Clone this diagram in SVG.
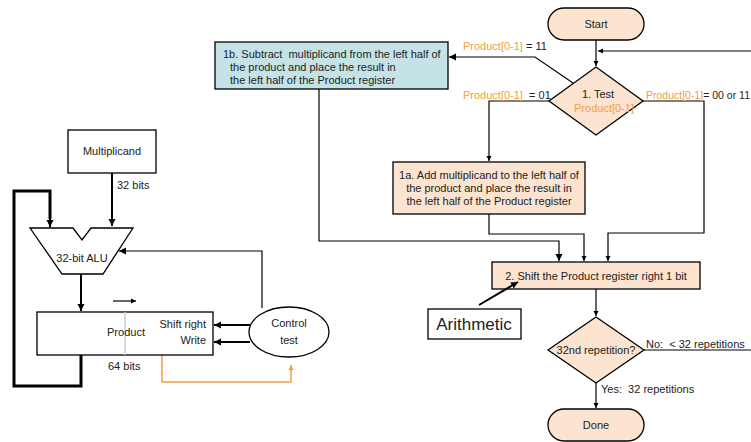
<svg xmlns="http://www.w3.org/2000/svg" width="751" height="442" viewBox="0 0 751 442">
  <defs>
    <marker id="ah" markerWidth="8" markerHeight="8" refX="7" refY="4" orient="auto" markerUnits="userSpaceOnUse">
      <path d="M0,0.5 L7,4 L0,7.5 Z" fill="#000"/>
    </marker>
    <marker id="ahs" markerWidth="6" markerHeight="6" refX="5" refY="3" orient="auto" markerUnits="userSpaceOnUse">
      <path d="M0,0.5 L5,3 L0,5.5 Z" fill="#000"/>
    </marker>
    <marker id="aho" markerWidth="6" markerHeight="6" refX="5" refY="3" orient="auto" markerUnits="userSpaceOnUse">
      <path d="M0,0.5 L5,3 L0,5.5 Z" fill="#F0A040"/>
    </marker>
  </defs>
  <style>
    text { font-family: "Liberation Sans", Arial, sans-serif; font-size: 11px; fill: #222; white-space: pre; }
    .c { text-anchor: middle; }
    .r { text-anchor: end; }
    .o { fill: #F0A040; }
    .sm { font-size: 10.5px; }
    .box { fill: #fff; stroke: #000; stroke-width: 1.3; }
    .peach { fill: #FCE4D0; stroke: #000; stroke-width: 1.3; }
    .blue { fill: #C5E3E6; stroke: #000; stroke-width: 1.3; }
    .ln { fill: none; stroke: #000; stroke-width: 1.2; }
    .thick { fill: none; stroke: #000; stroke-width: 3; }
    .mid { fill: none; stroke: #000; stroke-width: 2; }
  </style>

  <rect width="751" height="442" fill="#fff"/>

  <!-- Datapath: connectors -->
  <g id="datapath-links">
    <path class="mid" d="M112,173 V226" marker-end="url(#ah)"/>
    <path class="thick" d="M81,355 V386 H14 V191 H50 V219"/>
    <path class="mid" d="M50,218 V227" marker-end="url(#ah)"/>
    <path class="mid" d="M81,274 V311" marker-end="url(#ah)"/>
    <path class="ln" d="M113,301 H136" marker-end="url(#ahs)"/>
    <path class="ln" d="M262,308 V251 H119" marker-end="url(#ah)"/>
    <path class="mid" d="M250,325 H214" marker-end="url(#ah)"/>
    <path class="mid" d="M250,342 H214" marker-end="url(#ah)"/>
    <path fill="none" stroke="#F0A040" stroke-width="1.5" d="M162,355 V382 H291 V365" marker-end="url(#aho)"/>
    <text x="117" y="189">32 bits</text>
    <text x="108" y="370">64 bits</text>
  </g>

  <g id="multiplicand">
    <rect class="box" x="68" y="130" width="88" height="43"/>
    <text class="c" x="112" y="155">Multiplicand</text>
  </g>

  <g id="alu">
    <path class="box" d="M30,228 H73 L82,240 L91,228 H133 L103,274 H62 Z"/>
    <text class="c" x="82" y="262">32-bit ALU</text>
  </g>

  <g id="product">
    <rect class="box" x="37" y="312" width="176" height="43"/>
    <line x1="125" y1="312" x2="125" y2="355" stroke="#ccc" stroke-width="1.5"/>
    <text class="c" x="126" y="336">Product</text>
    <text class="r" x="206" y="328">Shift right</text>
    <text class="r" x="206" y="344">Write</text>
  </g>

  <g id="control">
    <ellipse cx="289" cy="332" rx="40" ry="25" fill="#fff" stroke="#000" stroke-width="1.3"/>
    <text class="c" x="289" y="327">Control</text>
    <text class="c" x="289" y="344">test</text>
  </g>

  <g id="start">
    <rect class="peach" x="548" y="8" width="96" height="32" rx="16"/>
    <text class="c" x="596" y="28">Start</text>
  </g>

  <g id="test">
    <path class="peach" d="M596,67 L643,101 L596,135 L549,101 Z"/>
    <text class="c" x="598" y="98">1. Test</text>
    <text class="c o" x="604" y="112">Product[0-1]</text>
  </g>

  <g id="step-1b">
    <rect class="blue" x="215" y="42" width="233" height="47"/>
    <text x="223" y="58">1b. Subtract  multiplicand from the left half of</text>
    <text x="230" y="71">the product and place the result in</text>
    <text x="230" y="84">the left half of the Product register</text>
  </g>

  <g id="step-1a">
    <rect class="peach" x="393" y="162" width="192" height="52"/>
    <text class="c" x="489" y="179">1a. Add multiplicand to the left half of</text>
    <text class="c" x="489" y="192">the product and place the result in</text>
    <text class="c" x="489" y="205">the left half of the Product register</text>
  </g>

  <g id="step-2">
    <rect class="peach" x="492" y="262" width="208" height="27"/>
    <text class="c" x="596" y="280">2. Shift the Product register right 1 bit</text>
  </g>

  <g id="arithmetic">
    <rect class="box" x="428" y="309" width="93" height="30"/>
    <text class="c" x="474" y="330" style="font-size:17px">Arithmetic</text>
  </g>

  <g id="repeat-test">
    <path class="peach" d="M596,317 L644,350 L596,383 L548,350 Z"/>
    <text class="c" x="596" y="354">32nd repetition?</text>
  </g>

  <g id="done">
    <rect class="peach" x="548" y="409" width="96" height="32" rx="16"/>
    <text class="c" x="596" y="429">Done</text>
  </g>

  <!-- Flowchart: connectors -->
  <g id="flow-links">
    <path class="ln" d="M596,40 V66" marker-end="url(#ahs)"/>
    <path class="ln" d="M751,51 H598" marker-end="url(#ahs)"/>
    <path class="ln" d="M573,83 L535,57 H449" marker-end="url(#ah)"/>
    <path class="ln" d="M549,101 H489 V161" marker-end="url(#ahs)"/>
    <path class="ln" d="M642,101 H704 V233 H608 V261" marker-end="url(#ahs)"/>
    <path class="ln" d="M489,214 V234 H584 V261" marker-end="url(#ahs)"/>
    <path class="ln" d="M319,89 V241 H559 V261" marker-end="url(#ah)"/>
    <path class="ln" d="M596,289 V316" marker-end="url(#ahs)"/>
    <path class="mid" d="M479,305 L518,282" marker-end="url(#ah)"/>
    <path class="ln" d="M644,350 H751"/>
    <path class="ln" d="M596,383 V408" marker-end="url(#ahs)"/>
    <text x="463" y="50"><tspan class="o">Product[0-1]</tspan> = 11</text>
    <text x="463" y="99"><tspan class="o">Product[0-1]</tspan>  = 01</text>
    <text class="sm" x="646" y="99"><tspan class="o">Product[0-1]</tspan>= 00 or 11</text>
    <text x="646" y="348">No:  &lt; 32 repetitions</text>
    <text x="601" y="393">Yes:  32 repetitions</text>
  </g>
</svg>
